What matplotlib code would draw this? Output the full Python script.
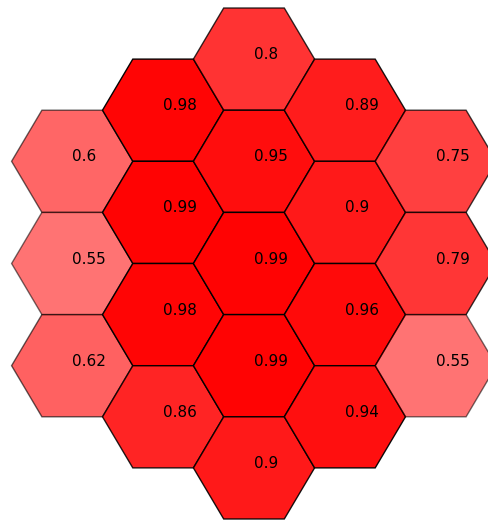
import numpy as np
import matplotlib
matplotlib.use("Agg")
import matplotlib.pyplot as plt
from matplotlib.patches import RegularPolygon

# hex grid, one list of scores per column (top to bottom)
col0 = [0.6, 0.55, 0.62]
col1 = [0.98, 0.99, 0.98, 0.86]
col2 = [0.8, 0.95, 0.99, 0.99, 0.9]
col3 = [0.89, 0.9, 0.96, 0.94]
col4 = [0.75, 0.79, 0.55]
columns = [col0, col1, col2, col3, col4]
col_offsets = [-2, -1, 0, 1, 2]

fig = plt.figure(figsize=(4.89, 5.21), dpi=100)
ax = fig.add_axes([0, 0, 1, 1])

h = np.sqrt(3)
for q, vals in zip(col_offsets, columns):
    n = len(vals)
    x = 1.5 * q
    for i, v in enumerate(vals):
        y = h * ((n - 1) / 2 - i)
        hexagon = RegularPolygon((x, y), numVertices=6, radius=1.0,
                                 orientation=np.radians(30),
                                 facecolor='red', edgecolor='k',
                                 alpha=v, linewidth=1)
        ax.add_patch(hexagon)
        ax.text(x, y, str(v), fontsize=11)

ax.set_xlim(-254 / 60.6, (489 - 254) / 60.6)
ax.set_ylim(-(521 - 263.5) / 59.0, 263.5 / 59.0)
ax.axis('off')
fig.savefig("out.png", dpi=100)
